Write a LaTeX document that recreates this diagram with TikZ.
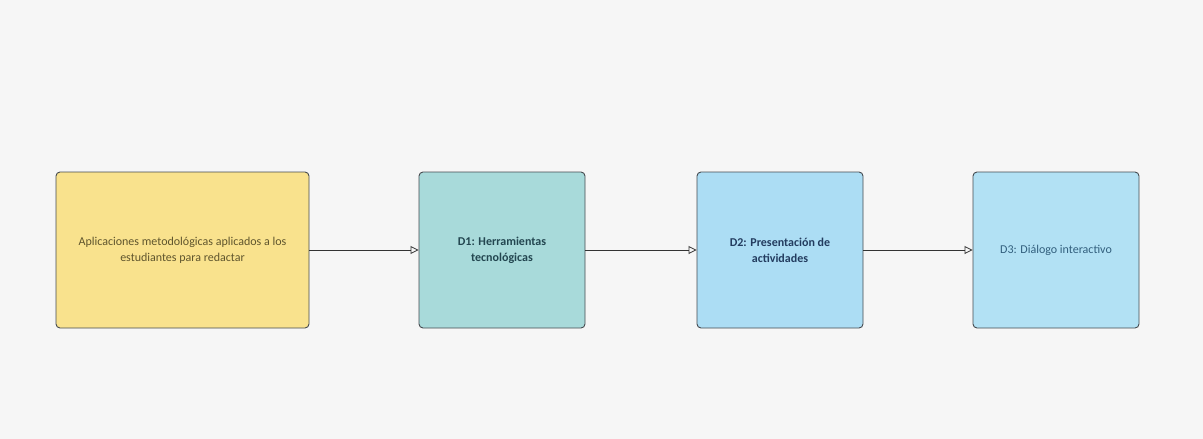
\documentclass[tikz,border=0pt]{standalone}
\usepackage{fontspec}
\setmainfont{Carlito}
\usetikzlibrary{arrows.meta}
\definecolor{bgc}{RGB}{246,246,246}
\definecolor{yel}{RGB}{249,226,141}
\definecolor{teal1}{RGB}{168,218,218}
\definecolor{blue1}{RGB}{172,221,244}
\definecolor{blue2}{RGB}{178,225,244}
\definecolor{edge}{RGB}{70,75,80}
\definecolor{txtY}{RGB}{95,85,45}
\definecolor{txtT}{RGB}{35,70,80}
\definecolor{txtB}{RGB}{35,60,95}
\definecolor{txtB2}{RGB}{50,95,125}
\tikzset{
  x=1pt,y=-1pt,
  box/.style={draw=edge,line width=0.9pt,rounded corners=4pt,minimum width=#1,minimum height=156pt,inner sep=0pt,align=center,font=\fontsize{12}{16}\selectfont},
  link/.style={draw=black!80,line width=0.8pt,-{Triangle[open,length=8pt,width=8pt]}}
}
\begin{document}
\begin{tikzpicture}
\fill[bgc] (0,0) rectangle (1203,439);
\useasboundingbox (0,0) rectangle (1203,439);
\node[box=253pt,fill=yel,text=txtY] (a) at (182.5,250) {Aplicaciones metodológicas aplicados a los\\estudiantes para redactar};
\node[box=166pt,fill=teal1,text=txtT,font=\fontsize{12}{16}\selectfont\bfseries] (b) at (502,250) {D1: Herramientas\\tecnológicas};
\node[box=166pt,fill=blue1,text=txtB,font=\fontsize{12}{16}\selectfont\bfseries] (c) at (780,250) {D2: Presentación de\\actividades};
\node[box=166pt,fill=blue2,text=txtB2] (d) at (1056,250) {D3: Diálogo interactivo};
\draw[link] (a) -- (b);
\draw[link] (b) -- (c);
\draw[link] (c) -- (d);
\end{tikzpicture}
\end{document}
